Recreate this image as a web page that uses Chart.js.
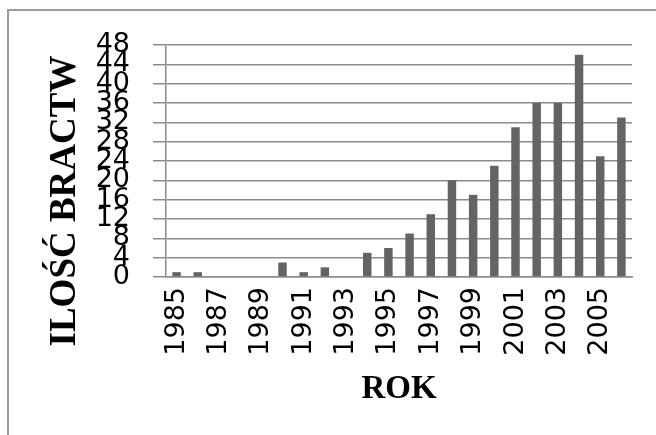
<!DOCTYPE html>
<html lang="pl">
<head>
  <meta charset="UTF-8">
  <title>Ilość bractw</title>
  <script src="https://cdn.jsdelivr.net/npm/chart.js"></script>
  <style>
    html, body {
      margin: 0;
      padding: 0;
      background: #fff;
      overflow: hidden;
    }
    .wrap {
      position: relative;
      width: 656px;
      height: 435px;
    }
    .frame {
      position: absolute;
      left: 7px;
      top: 9px;
      width: 700px;
      height: 500px;
      border: 2px solid #9a9a9a;
    }
    canvas {
      position: absolute;
      left: 0;
      top: 0;
    }
  </style>
</head>
<body>
  <div class="wrap">
    <div class="frame"></div>
    <canvas id="chart"></canvas>
  </div>

  <script>
    // Dane
    const years = ['1985', '1986', '1987', '1988', '1989', '1990', '1991', '1992', '1993', '1994', '1995',
                   '1996', '1997', '1998', '1999', '2000', '2001', '2002', '2003', '2004', '2005', '2006'];
    const counts = [1, 1, 0, 0, 0, 3, 1, 2, 0, 5, 6, 9, 13, 20, 17, 23, 31, 36, 36, 46, 25, 33];
    const yTicks = [0, 4, 8, 12, 16, 20, 24, 28, 32, 36, 40, 44, 48];

    const yTitle = 'ILOŚĆ BRACTW';
    const xTitle = 'ROK';

    // Tytuł osi Y rysujemy sami (jest przesunięty w dół względem wykresu)
    const yTitlePlugin = {
      id: 'yTitle',
      afterDraw(chart) {
        const ctx = chart.ctx;
        ctx.save();
        ctx.translate(65, 201);
        ctx.rotate(-Math.PI / 2);
        ctx.font = 'bold 37px "Liberation Serif", "Times New Roman", serif';
        ctx.fillStyle = '#000';
        ctx.textAlign = 'center';
        ctx.textBaseline = 'middle';
        ctx.fillText(yTitle, 0, 0);
        ctx.restore();
      }
    };

    new Chart(document.getElementById('chart'), {
      type: 'bar',
      data: {
        labels: years,
        datasets: [{
          data: counts,
          backgroundColor: '#646464',
          categoryPercentage: 1,
          barPercentage: 0.4,
        }]
      },
      options: {
        responsive: true,
        maintainAspectRatio: false,
        animation: false,
        layout: {
          padding: { left: 10, top: 45, right: 24, bottom: 10 }
        },
        plugins: {
          legend: { display: false },
          tooltip: { enabled: false },
        },
        scales: {
          x: {
            grid: { display: false, drawTicks: false },
            border: { display: true, color: '#8c8c8c', width: 1.5 },
            ticks: {
              autoSkip: false,
              maxRotation: 90,
              minRotation: 90,
              padding: 10,
              color: '#000',
              font: { family: '"DejaVu Sans", Verdana, sans-serif', size: 27 },
              callback: (value, index) => (index % 2 === 0 ? years[index] : ''),
            },
            title: {
              display: true,
              text: xTitle,
              color: '#000',
              font: { family: '"Liberation Serif", "Times New Roman", serif', size: 33, weight: 'bold' },
              padding: { top: 0, bottom: 16 },
            },
            afterFit(scale) {
              scale.height = 435 - 10 - 277;
              scale.paddingLeft = 0;
              scale.paddingRight = 0;
            }
          },
          y: {
            min: 0,
            max: 48,
            afterBuildTicks(scale) {
              scale.ticks = yTicks.map(v => ({ value: v }));
            },
            grid: { color: '#8c8c8c', lineWidth: 1.5, tickLength: 13 },
            border: { display: true, color: '#8c8c8c', width: 1.5 },
            ticks: {
              autoSkip: false,
              padding: 23,
              color: '#000',
              font: { family: '"DejaVu Sans", Verdana, sans-serif', size: 27 },
            },
            afterFit(scale) {
              scale.width = 166 - 10;
            }
          }
        }
      },
      plugins: [yTitlePlugin]
    });
  </script>
</body>
</html>
